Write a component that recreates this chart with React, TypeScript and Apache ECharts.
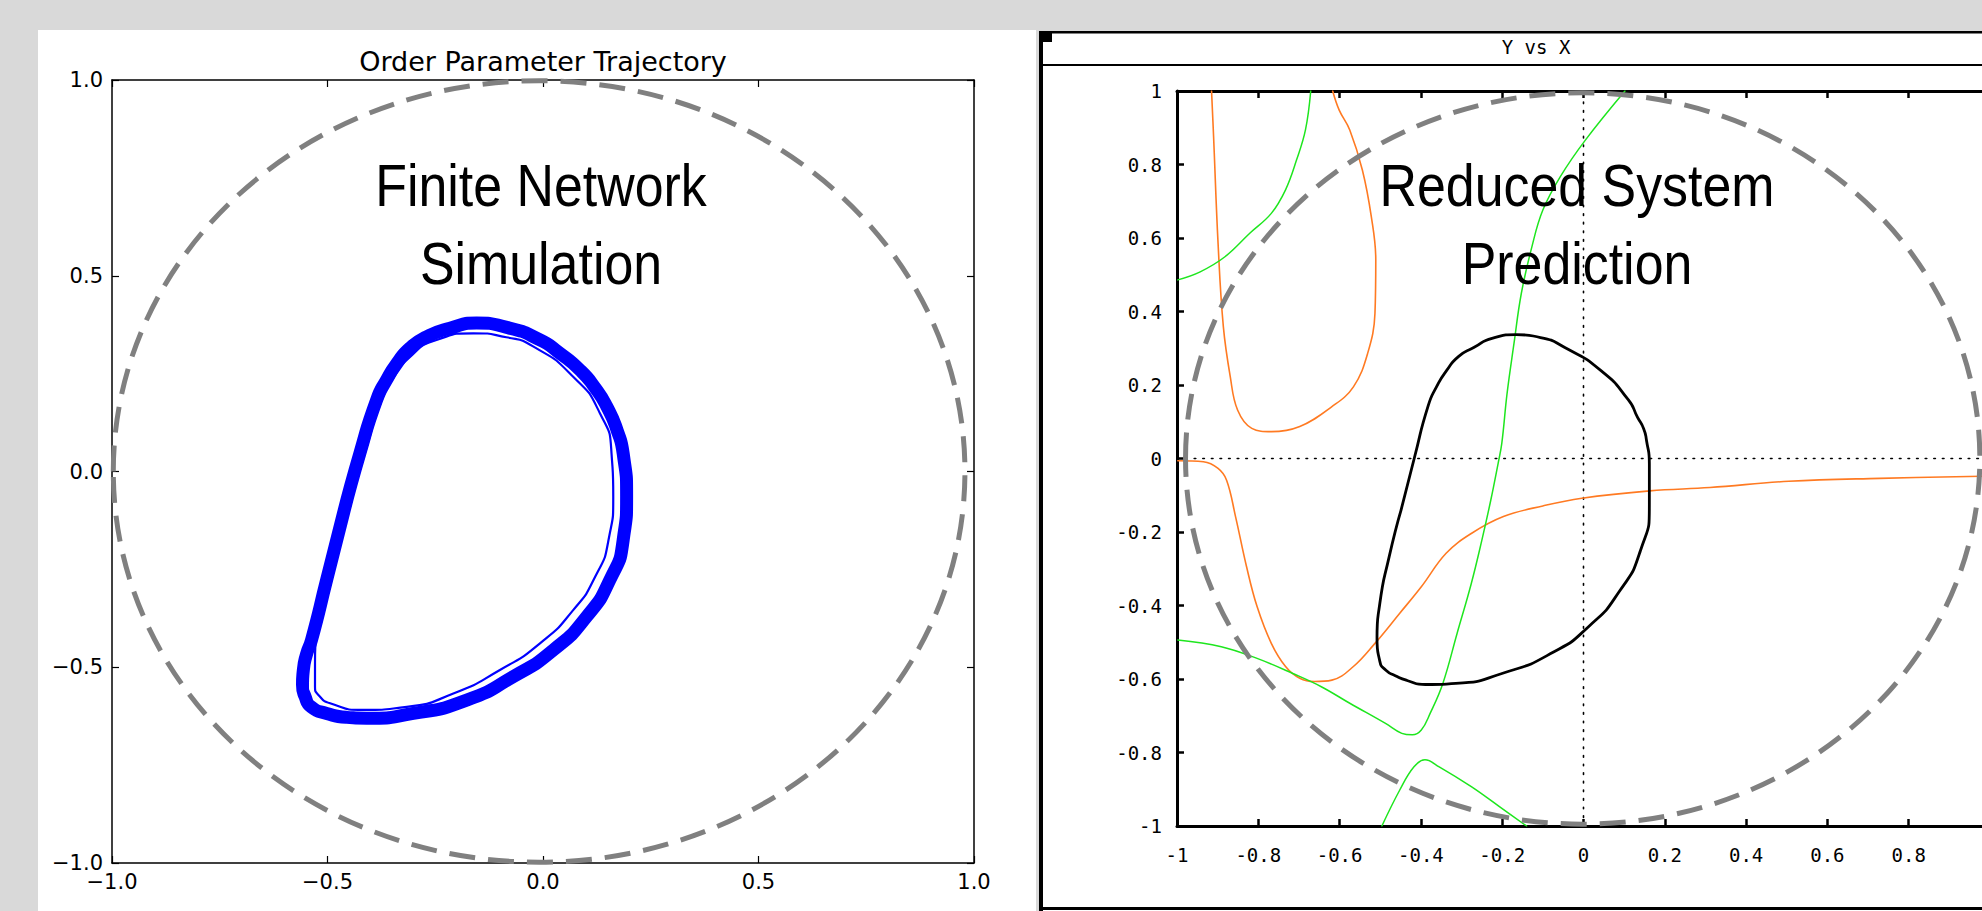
import React, { useEffect, useRef } from "react";
import * as echarts from "echarts";

// ---------- tick labels ----------
const leftTickLabels = ["−1.0", "−0.5", "0.0", "0.5", "1.0"];
const rightTickLabels = ["-1", "-0.8", "-0.6", "-0.4", "-0.2", "0", "0.2", "0.4", "0.6", "0.8", "1"];

// ---------- left panel: finite network simulation ----------
const blueOuter: [number, number][] = [
  [-0.463, -0.107], [-0.425, 0.046], [-0.386, 0.183], [-0.363, 0.234], [-0.339, 0.276],
  [-0.309, 0.315], [-0.27, 0.344], [-0.216, 0.366], [-0.154, 0.379], [-0.084, 0.368],
  [-0.007, 0.336], [0.039, 0.302], [0.086, 0.259], [0.12, 0.215], [0.148, 0.166],
  [0.172, 0.105], [0.186, 0.046], [0.194, -0.064], [0.186, -0.175], [0.155, -0.277],
  [0.101, -0.371], [0.024, -0.456], [-0.069, -0.524], [-0.177, -0.584], [-0.301, -0.618],
  [-0.409, -0.63], [-0.455, -0.628], [-0.502, -0.618], [-0.537, -0.602], [-0.552, -0.575],
  [-0.558, -0.545], [-0.556, -0.507], [-0.549, -0.468], [-0.537, -0.43], [-0.502, -0.277],
  [-0.463, -0.107],
];
const blueInner: [number, number][] = [
  [-0.448, -0.09], [-0.409, 0.063], [-0.371, 0.191], [-0.345, 0.243], [-0.316, 0.285],
  [-0.247, 0.336], [-0.162, 0.353], [-0.085, 0.343], [-0.022, 0.319], [0.07, 0.242],
  [0.132, 0.149], [0.159, 0.046], [0.163, -0.064], [0.152, -0.175], [0.121, -0.269],
  [0.07, -0.354], [-0.007, -0.439], [-0.1, -0.507], [-0.208, -0.567], [-0.316, -0.601],
  [-0.417, -0.609], [-0.494, -0.592], [-0.52, -0.572], [-0.529, -0.55], [-0.529, -0.49],
  [-0.487, -0.26], [-0.448, -0.09],
];
// dashed unit circle: centre x, centre y, radius x, radius y
const leftCircle = [-0.009, 0, 0.988, 0.998];

// ---------- right panel: reduced system prediction ----------
const blackLoop: [number, number][] = [
  [-0.449, -0.141], [-0.416, 0.002], [-0.382, 0.144], [-0.362, 0.194], [-0.337, 0.239],
  [-0.307, 0.278], [-0.27, 0.302], [-0.225, 0.327], [-0.165, 0.337], [-0.106, 0.329],
  [-0.046, 0.302], [0.043, 0.239], [0.11, 0.16], [0.133, 0.112], [0.148, 0.081],
  [0.155, 0.049], [0.162, -0.014], [0.162, -0.125], [0.14, -0.251], [0.088, -0.362],
  [0.013, -0.457], [-0.076, -0.528], [-0.195, -0.583], [-0.314, -0.612], [-0.389, -0.615],
  [-0.434, -0.604], [-0.463, -0.591], [-0.486, -0.576], [-0.501, -0.552], [-0.508, -0.489],
  [-0.501, -0.394], [-0.478, -0.267], [-0.449, -0.141],
];
const orangeUpper: [number, number][] = [
  [-0.915, 1.0], [-0.91, 0.876], [-0.899, 0.586], [-0.886, 0.359], [-0.869, 0.223],
  [-0.851, 0.132], [-0.816, 0.082], [-0.768, 0.073], [-0.698, 0.087], [-0.619, 0.141],
  [-0.566, 0.195], [-0.531, 0.286], [-0.513, 0.395], [-0.511, 0.54], [-0.522, 0.658],
  [-0.544, 0.785], [-0.575, 0.894], [-0.601, 0.948], [-0.617, 1.0],
];
const orangeLower: [number, number][] = [
  [-0.998, -0.006], [-0.935, -0.009], [-0.899, -0.027], [-0.878, -0.059], [-0.856, -0.158],
  [-0.829, -0.294], [-0.803, -0.403], [-0.768, -0.503], [-0.733, -0.566], [-0.698, -0.598],
  [-0.662, -0.607], [-0.619, -0.603], [-0.566, -0.566], [-0.513, -0.503], [-0.452, -0.421],
  [-0.399, -0.349], [-0.338, -0.258], [-0.276, -0.204], [-0.197, -0.158], [-0.1, -0.129],
  [-0.004, -0.108], [0.163, -0.088], [0.311, -0.079], [0.505, -0.062], [0.729, -0.054],
  [1.0, -0.048],
];
const greenUpper: [number, number][] = [
  [-0.998, 0.486], [-0.943, 0.508], [-0.882, 0.549], [-0.821, 0.613], [-0.768, 0.667],
  [-0.733, 0.731], [-0.706, 0.812], [-0.684, 0.894], [-0.671, 1.0],
];
const greenLong: [number, number][] = [
  [0.102, 1.0], [0.005, 0.867], [-0.057, 0.767], [-0.1, 0.676], [-0.127, 0.576],
  [-0.153, 0.449], [-0.171, 0.313], [-0.188, 0.177], [-0.201, 0.041], [-0.21, -0.013],
  [-0.228, -0.113], [-0.25, -0.222], [-0.276, -0.34], [-0.311, -0.476], [-0.346, -0.612],
  [-0.377, -0.693], [-0.399, -0.739], [-0.421, -0.752], [-0.447, -0.748], [-0.487, -0.721],
  [-0.575, -0.666], [-0.645, -0.621], [-0.715, -0.585], [-0.803, -0.544], [-0.891, -0.512],
  [-0.998, -0.494],
];
const greenLower: [number, number][] = [
  [-0.496, -1.0], [-0.452, -0.902], [-0.417, -0.839], [-0.39, -0.82], [-0.355, -0.839],
  [-0.276, -0.893], [-0.206, -0.948], [-0.14, -1.0],
];
const zeroVertical: [number, number][] = [[0, -1], [0, 1]];
const zeroHorizontal: [number, number][] = [[-1, 0], [1, 0]];
const rightCircle = [-0.002, 0, 0.977, 0.995];

const ORANGE = "#ff7a22";
const GREEN = "#1ee61e";
const CW = 2000; // drawing is wider than the window: the right plot runs past its edge

function axisPair(grid: number, interval: number, labels: string[], cfg: any) {
  const fmt = (v: number) => labels[Math.round((v + 1) / interval)] ?? "";
  const base = {
    gridIndex: grid,
    type: "value",
    min: -1,
    max: 1,
    interval,
    splitLine: { show: false },
    axisLine: { show: true, onZero: false, lineStyle: { color: "#000", width: cfg.lineWidth } },
    axisTick: { show: true, inside: true, length: cfg.tickLen, lineStyle: { color: "#000", width: cfg.tickWidth } },
  };
  return { base, fmt };
}

export default function App() {
  const ref = useRef<HTMLDivElement>(null);
  useEffect(() => {
    document.body.style.margin = "0";
    document.body.style.overflow = "hidden";
    document.documentElement.style.overflow = "hidden";
    const chart = echarts.init(ref.current!, null, { renderer: "svg" });

    const L = axisPair(0, 0.5, leftTickLabels, { lineWidth: 1.5, tickLen: 7, tickWidth: 1.2 });
    const R = axisPair(1, 0.2, rightTickLabels, { lineWidth: 3, tickLen: 7, tickWidth: 2.5 });
    const leftLabel = { color: "#000", fontFamily: "DejaVu Sans", fontSize: 21 };
    const rightLabel = { color: "#000", fontFamily: "DejaVu Sans Mono", fontSize: 19 };

    const lineS = (data: [number, number][], xi: number, yi: number, color: string, width: number, smooth: number | boolean, z = 2, type: any = "solid") => ({
      type: "line",
      data,
      xAxisIndex: xi,
      yAxisIndex: yi,
      symbol: "none",
      smooth,
      z,
      lineStyle: { color, width, type, join: "round", cap: "round" },
      silent: true,
    });

    chart.setOption({
      animation: false,
      backgroundColor: "#d9d9d9",
      grid: [
        { left: 112, top: 80, width: 862, height: 783, show: false },
        { left: 1177, top: 91, width: 813, height: 735, show: false },
      ],
      xAxis: [
        { ...L.base, position: "bottom", axisLabel: { ...leftLabel, margin: 8, formatter: L.fmt } },
        { ...L.base, position: "top", axisLabel: { show: false } },
        { ...R.base, position: "bottom", axisLabel: { ...rightLabel, margin: 19, formatter: R.fmt, showMaxLabel: false } },
        { ...R.base, position: "top", axisLabel: { show: false } },
      ],
      yAxis: [
        { ...L.base, position: "left", axisLabel: { ...leftLabel, margin: 9, formatter: L.fmt } },
        { ...L.base, position: "right", axisLabel: { show: false } },
        { ...R.base, position: "left", axisLabel: { ...rightLabel, margin: 15, formatter: R.fmt } },
        { ...R.base, position: "right", axisLabel: { show: false } },
      ],
      series: [
        lineS(blueOuter, 0, 0, "#0000ff", 13, 0.6),
        lineS(blueInner, 0, 0, "#0000ff", 2.2, 0.6),
        lineS(zeroVertical, 2, 2, "#000", 1.6, false, 1, [1.6, 7]),
        lineS(zeroHorizontal, 2, 2, "#000", 1.6, false, 1, [1.6, 7]),
        lineS(orangeUpper, 2, 2, ORANGE, 1.6, 0.4),
        lineS(orangeLower, 2, 2, ORANGE, 1.6, 0.4),
        lineS(greenUpper, 2, 2, GREEN, 1.5, 0.4),
        lineS(greenLong, 2, 2, GREEN, 1.5, 0.4),
        lineS(greenLower, 2, 2, GREEN, 1.5, 0.4),
        lineS(blackLoop, 2, 2, "#000", 2.8, 0.6, 3),
      ],
    });

    const ellipse = (xi: number, yi: number, c: number[], id: string) => {
      const ctr = chart.convertToPixel({ xAxisIndex: xi, yAxisIndex: yi }, [c[0], c[1]]) as number[];
      const edge = chart.convertToPixel({ xAxisIndex: xi, yAxisIndex: yi }, [c[0] + c[2], c[1] + c[3]]) as number[];
      return {
        type: "ellipse",
        id,
        z: 6,
        silent: true,
        shape: { cx: ctr[0], cy: ctr[1], rx: Math.abs(edge[0] - ctr[0]), ry: Math.abs(ctr[1] - edge[1]) },
        style: { fill: "none", stroke: "#808080", lineWidth: 5, lineDash: [26, 13] },
      };
    };

    const txt = (id: string, text: string, x: number, y: number, font: string, scaleX = 1) => ({
      type: "text",
      id,
      x,
      y,
      scaleX,
      z: 10,
      silent: true,
      style: {
        text,
        font,
        fill: "#000",
        align: "center",
        textAlign: "center",
        verticalAlign: "middle",
        textVerticalAlign: "middle",
      },
    });

    const rect = (id: string, x: number, y: number, w: number, h: number, fill: string, z: number) => ({
      type: "rect",
      id,
      z,
      silent: true,
      shape: { x, y, width: w, height: h },
      style: { fill },
    });

    chart.setOption({
      graphic: [
        rect("bgL", 38, 30, 998, 881, "#ffffff", -10),
        rect("bgR", 1039, 31, CW - 1039, 880, "#ffffff", -10),
        rect("bL", 1039, 31, 4, 880, "#000", 10),
        rect("bT", 1039, 31, CW - 1039, 2.5, "#000", 10),
        rect("bH", 1043, 64, CW - 1043, 2, "#000", 10),
        rect("bB", 1039, 907, CW - 1039, 3, "#000", 10),
        rect("sq", 1043, 33, 9, 9, "#000", 10),
        ellipse(0, 0, leftCircle, "circL"),
        ellipse(2, 2, rightCircle, "circR"),
        txt("title", "Order Parameter Trajectory", 543, 61, '27px "DejaVu Sans"'),
        txt("head", "Y vs X", 1536, 47, '19px "DejaVu Sans Mono"'),
        txt("l1", "Finite Network", 541, 185, '60px "Liberation Sans"', 0.865),
        txt("l2", "Simulation", 541, 263, '60px "Liberation Sans"', 0.865),
        txt("r1", "Reduced System", 1577, 185.5, '60px "Liberation Sans"', 0.865),
        txt("r2", "Prediction", 1577, 263, '60px "Liberation Sans"', 0.865),
      ],
    });

    return () => chart.dispose();
  }, []);
  return <div ref={ref} style={{ width: CW, height: 911 }} />;
}
